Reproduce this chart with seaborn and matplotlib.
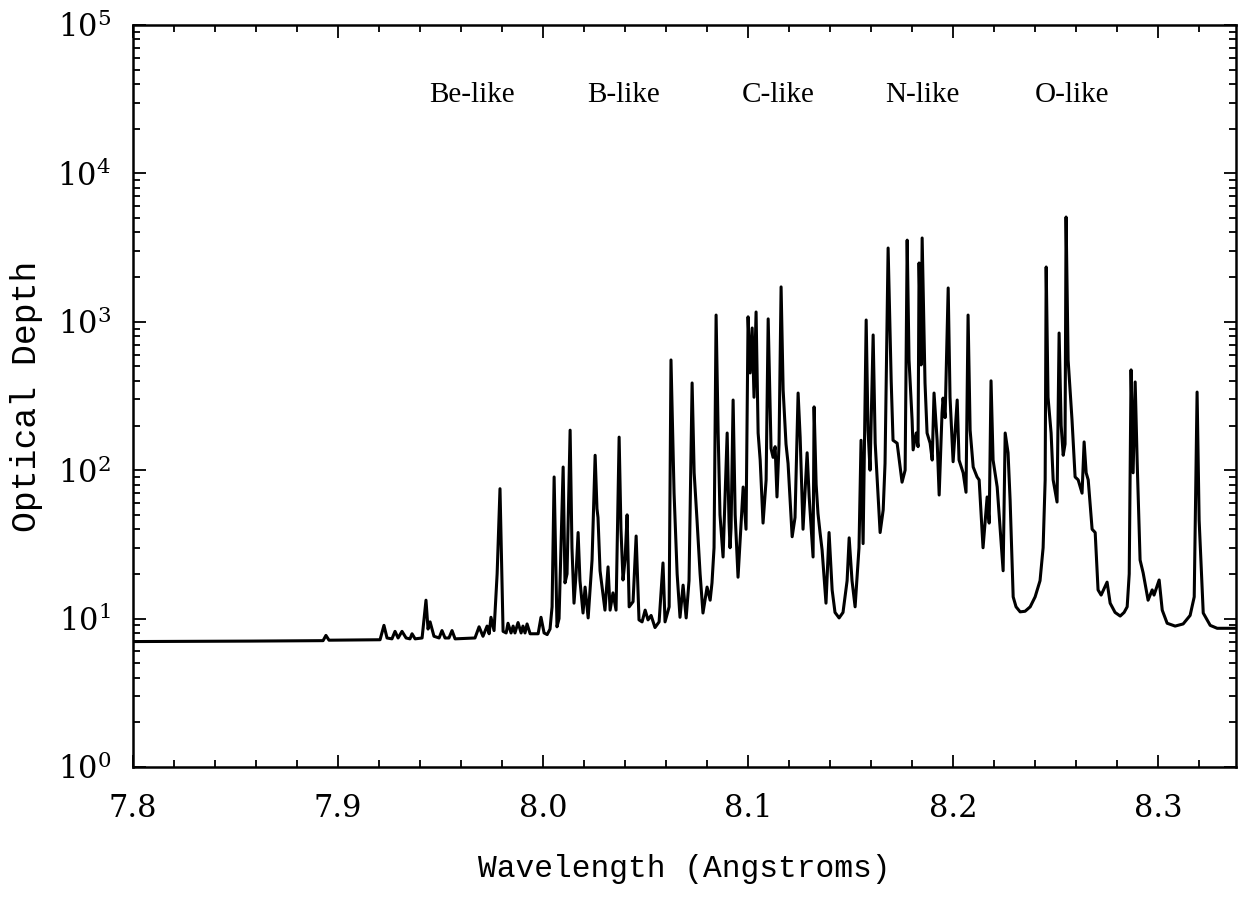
import numpy as np
import pandas as pd
import matplotlib
matplotlib.use("Agg")
import matplotlib.pyplot as plt
from matplotlib.ticker import MultipleLocator, LogLocator, NullFormatter
import seaborn as sns

# Traced optical-depth spectrum (wavelength in Angstroms, optical depth)
wavelength = [
    7.8000, 7.8570, 7.8910, 7.8927, 7.8941, 7.8956, 7.9205, 7.9224, 7.9239, 7.9263,
    7.9278, 7.9293, 7.9312, 7.9332, 7.9351, 7.9361, 7.9376, 7.9410, 7.9429, 7.9439,
    7.9449, 7.9468, 7.9493, 7.9507, 7.9522, 7.9541, 7.9556, 7.9571, 7.9668, 7.9688,
    7.9707, 7.9727, 7.9737, 7.9746, 7.9761, 7.9776, 7.9790, 7.9805, 7.9820, 7.9829,
    7.9844, 7.9854, 7.9863, 7.9878, 7.9893, 7.9902, 7.9912, 7.9922, 7.9937, 7.9976,
    7.9990, 8.0005, 8.0020, 8.0034, 8.0044, 8.0054, 8.0068, 8.0078, 8.0098, 8.0107,
    8.0117, 8.0132, 8.0141, 8.0151, 8.0161, 8.0171, 8.0180, 8.0195, 8.0205, 8.0220,
    8.0239, 8.0254, 8.0263, 8.0268, 8.0278, 8.0302, 8.0317, 8.0327, 8.0341, 8.0356,
    8.0371, 8.0380, 8.0390, 8.0400, 8.0410, 8.0420, 8.0439, 8.0454, 8.0468, 8.0483,
    8.0498, 8.0512, 8.0527, 8.0546, 8.0566, 8.0585, 8.0595, 8.0615, 8.0624, 8.0639,
    8.0654, 8.0668, 8.0683, 8.0698, 8.0712, 8.0727, 8.0737, 8.0751, 8.0766, 8.0780,
    8.0800, 8.0815, 8.0824, 8.0834, 8.0844, 8.0854, 8.0863, 8.0878, 8.0898, 8.0907,
    8.0912, 8.0917, 8.0927, 8.0937, 8.0951, 8.0976, 8.0990, 8.1000, 8.1010, 8.1020,
    8.1029, 8.1039, 8.1049, 8.1059, 8.1073, 8.1088, 8.1098, 8.1112, 8.1122, 8.1132,
    8.1141, 8.1151, 8.1161, 8.1171, 8.1185, 8.1195, 8.1215, 8.1229, 8.1244, 8.1254,
    8.1268, 8.1288, 8.1298, 8.1317, 8.1322, 8.1332, 8.1341, 8.1351, 8.1361, 8.1380,
    8.1395, 8.1410, 8.1424, 8.1444, 8.1463, 8.1483, 8.1493, 8.1507, 8.1522, 8.1541,
    8.1551, 8.1561, 8.1576, 8.1585, 8.1595, 8.1610, 8.1620, 8.1644, 8.1659, 8.1668,
    8.1683, 8.1698, 8.1707, 8.1727, 8.1751, 8.1766, 8.1776, 8.1785, 8.1800, 8.1805,
    8.1820, 8.1829, 8.1834, 8.1844, 8.1849, 8.1863, 8.1873, 8.1888, 8.1898, 8.1907,
    8.1922, 8.1932, 8.1946, 8.1951, 8.1961, 8.1976, 8.1985, 8.2000, 8.2020, 8.2029,
    8.2049, 8.2063, 8.2073, 8.2083, 8.2098, 8.2117, 8.2127, 8.2146, 8.2166, 8.2176,
    8.2185, 8.2195, 8.2215, 8.2244, 8.2254, 8.2268, 8.2278, 8.2293, 8.2307, 8.2327,
    8.2351, 8.2376, 8.2400, 8.2424, 8.2439, 8.2449, 8.2454, 8.2463, 8.2478, 8.2488,
    8.2507, 8.2517, 8.2527, 8.2537, 8.2546, 8.2551, 8.2561, 8.2580, 8.2595, 8.2610,
    8.2629, 8.2639, 8.2649, 8.2659, 8.2678, 8.2693, 8.2707, 8.2722, 8.2751, 8.2766,
    8.2790, 8.2815, 8.2834, 8.2849, 8.2859, 8.2868, 8.2878, 8.2888, 8.2898, 8.2912,
    8.2927, 8.2951, 8.2971, 8.2980, 8.3005, 8.3020, 8.3044, 8.3083, 8.3122, 8.3156,
    8.3176, 8.3190, 8.3200, 8.3220, 8.3254, 8.3288, 8.3380,
]
optical_depth = [
    7.0, 7.05, 7.1, 7.1, 7.7, 7.15, 7.2, 9.0, 7.4, 7.3,
    8.2, 7.4, 8.2, 7.4, 7.3, 7.9, 7.3, 7.4, 13.3, 8.5,
    9.5, 7.6, 7.4, 8.3, 7.4, 7.4, 8.3, 7.3, 7.4, 8.8,
    7.6, 8.9, 7.9, 10.2, 8.3, 20.0, 75.0, 8.2, 8.0, 9.3,
    8.0, 8.9, 8.0, 9.4, 8.0, 8.9, 8.0, 9.2, 7.9, 7.9,
    10.2, 8.0, 7.8, 8.5, 12.0, 90.0, 8.8, 10.0, 105.0, 17.4,
    20.0, 186.0, 30.0, 12.7, 20.0, 38.0, 18.0, 10.9, 16.3, 10.1,
    24.8, 126.0, 55.0, 48.0, 21.0, 11.4, 22.3, 11.4, 14.9, 11.4,
    167.0, 40.0, 18.2, 25.0, 50.0, 12.0, 13.0, 36.0, 9.8, 9.5,
    11.4, 9.8, 10.5, 8.7, 9.5, 23.7, 9.5, 12.0, 553.0, 70.0,
    20.0, 10.2, 16.8, 10.1, 18.0, 387.0, 96.0, 46.0, 20.0, 10.9,
    16.3, 13.3, 17.4, 30.0, 1110.0, 178.0, 50.0, 26.0, 178.0, 45.0,
    30.0, 41.0, 297.0, 50.0, 19.0, 77.0, 40.0, 1080.0, 452.0, 908.0,
    310.0, 1164.0, 178.0, 117.0, 44.0, 86.0, 1046.0, 140.0, 122.0, 144.0,
    66.0, 150.0, 1718.0, 348.0, 150.0, 111.0, 35.6, 48.0, 331.0, 167.0,
    40.0, 131.0, 66.0, 26.0, 267.0, 80.0, 51.0, 38.0, 29.0, 12.7,
    38.0, 15.6, 11.0, 10.1, 11.0, 18.0, 35.0, 18.0, 12.0, 30.0,
    159.0, 32.0, 1028.0, 186.0, 100.0, 815.0, 152.0, 38.0, 54.0, 111.0,
    3141.0, 400.0, 159.0, 152.0, 83.0, 100.0, 3550.0, 553.0, 218.0, 137.0,
    178.0, 144.0, 2490.0, 512.0, 3670.0, 387.0, 178.0, 152.0, 117.0, 331.0,
    159.0, 68.0, 243.0, 306.0, 226.0, 1690.0, 310.0, 114.0, 297.0, 117.0,
    96.0, 71.0, 1110.0, 186.0, 105.0, 90.0, 86.0, 30.0, 66.0, 44.0,
    400.0, 117.0, 77.0, 21.0, 178.0, 131.0, 63.0, 14.0, 12.0, 11.1,
    11.2, 12.0, 14.0, 18.0, 30.0, 86.0, 2340.0, 310.0, 178.0, 86.0,
    61.0, 840.0, 200.0, 126.0, 150.0, 5080.0, 553.0, 218.0, 90.0, 86.0,
    70.0, 155.0, 96.0, 86.0, 40.0, 38.0, 15.6, 14.4, 17.6, 12.7,
    11.0, 10.4, 11.0, 12.0, 20.0, 474.0, 96.0, 393.0, 111.0, 24.8,
    20.3, 13.3, 15.6, 14.4, 18.2, 11.4, 9.3, 8.9, 9.2, 10.5,
    14.0, 336.0, 46.0, 10.9, 9.0, 8.6, 8.6,
]

# Isoelectronic sequence labels
ion_labels = ["Be-like", "B-like", "C-like", "N-like", "O-like"]
ion_label_x = [7.9654, 8.0395, 8.1146, 8.1849, 8.2580]
ion_label_y = 3.4e4

x_ticks = [7.8, 7.9, 8.0, 8.1, 8.2, 8.3]

sns.set_style("ticks")
plt.rcParams["font.family"] = ["DejaVu Serif"]
plt.rcParams["mathtext.fontset"] = "dejavuserif"
plt.rcParams["text.color"] = "black"
plt.rcParams["axes.labelcolor"] = "black"
plt.rcParams["xtick.color"] = "black"
plt.rcParams["ytick.color"] = "black"

df = pd.DataFrame({"Wavelength": wavelength, "Depth": optical_depth})

fig = plt.figure(figsize=(12.43, 9.02), dpi=100)
ax = fig.add_axes([0.107, 0.1497, 0.8874, 0.8226])

sns.lineplot(data=df, x="Wavelength", y="Depth", ax=ax, color="black",
             linewidth=2.2, estimator=None, sort=False)

ax.set_yscale("log")
ax.set_xlim(7.8, 8.338)
ax.set_ylim(1, 1e5)

ax.set_xticks(x_ticks)
ax.set_xticklabels([f"{v:.1f}" for v in x_ticks])
ax.xaxis.set_minor_locator(MultipleLocator(0.02))
ax.yaxis.set_major_locator(LogLocator(base=10, numticks=10))
ax.yaxis.set_minor_locator(LogLocator(base=10, subs=np.arange(2, 10), numticks=10))
ax.yaxis.set_minor_formatter(NullFormatter())

ax.tick_params(which="both", direction="in", top=True, right=True, width=1.3,
               colors="black")
ax.tick_params(which="major", length=9, labelsize=22)
ax.tick_params(which="minor", length=5)
ax.tick_params(axis="x", which="major", pad=19)
ax.tick_params(axis="y", which="major", pad=16)

for side in ["left", "right", "top", "bottom"]:
    ax.spines[side].set_linewidth(1.8)
    ax.spines[side].set_color("black")

ax.set_xlabel("Wavelength (Angstroms)", family="Liberation Mono", fontsize=22.5,
              labelpad=21)
ax.set_ylabel("Optical Depth", family="Liberation Mono", fontsize=25,
              labelpad=10)

for lbl, xp in zip(ion_labels, ion_label_x):
    ax.text(xp, ion_label_y, lbl, family="Liberation Serif", fontsize=21,
            color="black", ha="center", va="center")

fig.savefig("out.png", dpi=100, facecolor="white")
